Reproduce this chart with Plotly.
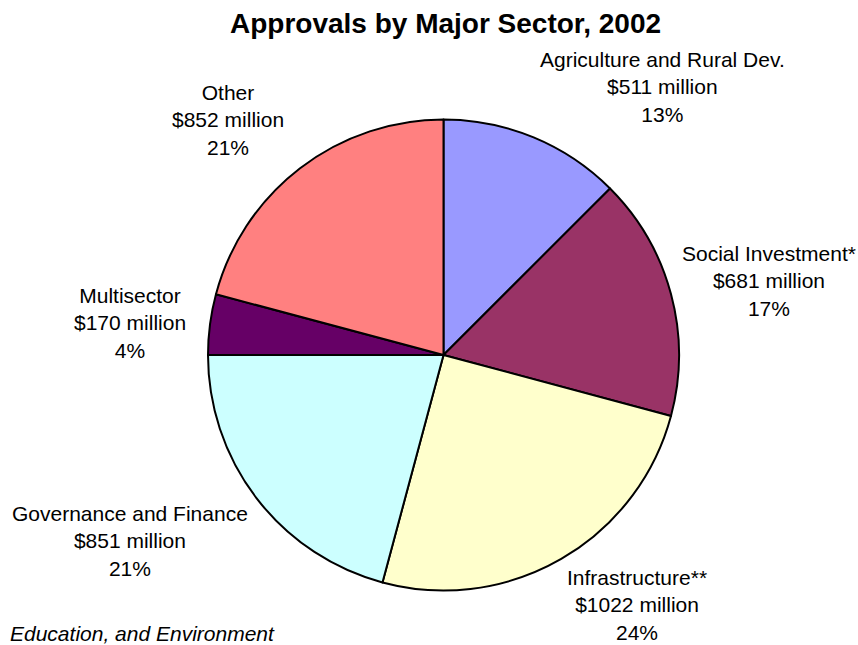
import plotly.graph_objects as go

# Sector approvals, 2002 (US$ million), clockwise from 12 o'clock
sectors = ["Agriculture and Rural Dev.", "Social Investment*", "Infrastructure**",
           "Governance and Finance", "Multisector", "Other"]
amounts = [511, 681, 1022, 851, 170, 852]
percent_labels = ["13%", "17%", "24%", "21%", "4%", "21%"]
colors = ["#9999FF", "#993366", "#FFFFCC", "#CCFFFF", "#660066", "#FF8080"]

W, H = 858, 645
cx, cy, r = 443.5, 355, 235.5

# label block centres (pixels)
label_pos = {
    "Agriculture and Rural Dev.": (662, 87),
    "Social Investment*": (769, 281),
    "Infrastructure**": (637, 605),
    "Governance and Finance": (130, 541),
    "Multisector": (130, 323),
    "Other": (228, 120),
}

FONT = "Liberation Sans, Arial, sans-serif"

fig = go.Figure(go.Pie(
    labels=sectors,
    values=amounts,
    sort=False,
    direction="clockwise",
    rotation=0,
    marker=dict(colors=colors, line=dict(color="black", width=2)),
    textinfo="none",
    hoverinfo="label+value",
    showlegend=False,
    domain=dict(x=[(cx - r) / W, (cx + r) / W], y=[1 - (cy + r) / H, 1 - (cy - r) / H]),
))

annotations = []
for name, amt, pct in zip(sectors, amounts, percent_labels):
    px, py = label_pos[name]
    annotations.append(dict(
        text=f"{name}<br>${amt} million<br>{pct}",
        x=px / W, y=1 - py / H, xref="paper", yref="paper",
        xanchor="center", yanchor="middle", showarrow=False,
        font=dict(family=FONT, size=21, color="black"),
    ))

annotations.append(dict(
    text="<b>Approvals by Major Sector, 2002</b>",
    x=445 / W, y=1 - 23 / H, xref="paper", yref="paper",
    xanchor="center", yanchor="middle", showarrow=False,
    font=dict(family=FONT, size=28, color="black"),
))

annotations.append(dict(
    text="<i>Education, and Environment</i>",
    x=8 / W, y=1 - 633 / H, xref="paper", yref="paper",
    xanchor="left", yanchor="middle", showarrow=False,
    font=dict(family=FONT, size=21, color="black"),
))

fig.update_layout(
    width=W, height=H,
    margin=dict(l=0, r=0, t=0, b=0),
    paper_bgcolor="white", plot_bgcolor="white",
    annotations=annotations,
)

fig.write_html("out.html", config={"displayModeBar": False})
